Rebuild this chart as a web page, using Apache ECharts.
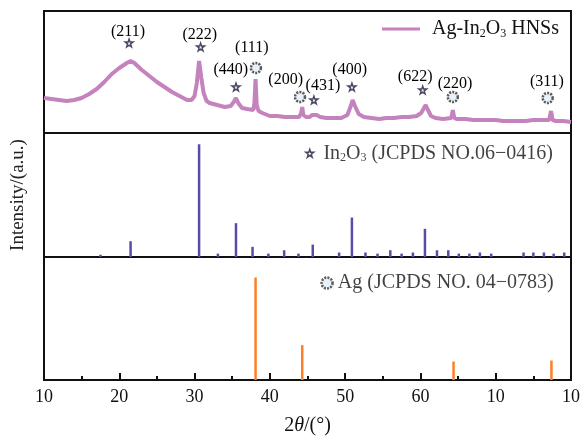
<!DOCTYPE html>
<html>
<head>
<meta charset="utf-8">
<script src="https://cdn.jsdelivr.net/npm/echarts@6/dist/echarts.min.js"></script>
<style>
  html, body { margin: 0; padding: 0; background: #fff; }
  #main { width: 584px; height: 438px; }
</style>
</head>
<body>
<div id="main"></div>
<script>
// measured XRD pattern of Ag-In2O3 HNSs (2theta, intensity a.u.)
const xrdTheta = [10, 11, 12, 13, 14, 15, 16, 17, 18, 19, 20, 21, 21.5, 22, 23, 24, 25, 26, 27, 28, 29, 29.6, 30.0, 30.3, 30.6, 30.9, 31.2, 31.6, 32, 33, 34, 34.8, 35.2, 35.5, 35.8, 36.3, 37, 37.8, 37.95, 38.1, 38.25, 38.5, 39, 40, 41, 42, 43, 43.9, 44.15, 44.3, 44.45, 44.8, 45.3, 45.6, 45.85, 46.2, 46.7, 47.5, 48.5, 49.5, 50.3, 50.7, 51.0, 51.3, 51.8, 52.5, 53.5, 54.5, 55.5, 56.5, 57.5, 58.5, 59.5, 60.1, 60.4, 60.7, 61.0, 61.4, 62, 63, 64.1, 64.3, 64.5, 64.8, 66, 67, 68, 69, 70, 71, 72, 73, 74, 75, 76, 77.1, 77.35, 77.55, 78, 79, 80];
const xrdInt = [35, 34, 33, 32, 33, 35, 39, 44, 51, 59, 65, 70, 72, 70, 63, 57, 51, 46, 41, 37, 33, 33, 37, 50, 72, 55, 40, 32, 30, 28, 26, 27, 31, 35, 30, 25, 24, 23, 30, 54, 28, 22, 20, 17, 17, 16, 16, 16, 20, 26, 18, 16, 16, 18, 20, 18, 16, 15, 15, 15, 18, 26, 33, 27, 19, 16, 15, 14, 15, 15, 16, 16, 17, 20, 24, 28, 23, 17, 15, 14, 15, 23, 15, 14, 14, 13, 13, 13, 13, 12, 12, 12, 12, 13, 13, 13, 22, 13, 12, 12, 11];

// In2O3 reference lines (JCPDS 06-0416)
const in2o3Pos = [17.5, 21.5, 30.6, 33.1, 35.5, 37.7, 39.8, 41.9, 43.8, 45.7, 49.2, 50.9, 52.7, 54.3, 56.0, 57.5, 59.0, 60.6, 62.2, 63.7, 65.1, 66.5, 67.9, 69.4, 73.7, 75.0, 76.4, 77.7, 79.1];
const in2o3Int = [2, 14, 100, 3, 30, 9, 3, 6, 3, 11, 4, 35, 4, 3, 6, 3, 4, 25, 6, 6, 3, 3, 4, 3, 4, 4, 4, 3, 4];

// Ag reference lines (JCPDS 04-0783)
const agPos = [38.1, 44.3, 64.4, 77.4];
const agInt = [100, 34, 18, 19];

// peak annotations in the top panel
const starMarks = [[21.3, 90], [30.8, 86], [35.5, 46], [45.85, 33], [50.9, 46], [60.3, 43]];
const agMarks = [[38.15, 65], [44.0, 36], [64.3, 36], [76.9, 35]];
const hklLabels = ['(211)', '(222)', '(440)', '(111)', '(200)', '(431)', '(400)', '(622)', '(220)', '(311)'];
const hklPos = [[21.15, 101], [30.7, 98], [34.8, 63], [37.6, 85], [42.1, 53], [47.05, 47], [50.6, 63], [59.3, 56], [64.6, 49], [76.8, 51]];

const xTickLabels = ['10', '20', '30', '40', '50', '60', '10', '10'];

const FONT = 'Liberation Serif';
const INK = '#111';
const starPath = 'path://M50,2 L61,36 L97,36 L68,57 L79,92 L50,71 L21,92 L32,57 L3,36 L39,36 Z';
const richText = {
  a: { fontFamily: FONT, fontSize: 20, color: INK },
  s: { fontFamily: FONT, fontSize: 12, color: INK, padding: [9, 0, 0, 0] }
};
const starStyle = { color: '#eef0fb', borderColor: '#1c1c3c', borderWidth: 1.4 };
const gearStyle = { color: '#e2ecf7', borderColor: '#333', borderWidth: 2.5, borderType: [2, 1.2] };

const chart = echarts.init(document.getElementById('main'));

const frame = { show: true, borderColor: INK, borderWidth: 2, left: 44, right: 13 };
const hiddenX = (i) => ({ gridIndex: i, type: 'value', min: 10, max: 80, show: false });

chart.setOption({
  animation: false,
  backgroundColor: '#fff',
  grid: [
    Object.assign({ top: 11, height: 122 }, frame),
    Object.assign({ top: 133, height: 124 }, frame),
    Object.assign({ top: 257, height: 123 }, frame)
  ],
  legend: {
    data: ['Ag-In2O3 HNSs'],
    left: 382,
    top: 19,
    padding: 0,
    icon: 'rect',
    itemWidth: 38,
    itemHeight: 3,
    itemStyle: { color: '#c483bd' },
    formatter: () => '{a|Ag-In}{s|2}{a|O}{s|3}{a| HNSs}',
    textStyle: { padding: [0, 0, 0, 7], rich: richText }
  },
  xAxis: [
    hiddenX(0),
    hiddenX(1),
    {
      gridIndex: 2, type: 'value', min: 10, max: 80, interval: 10,
      axisLine: { show: true, lineStyle: { color: INK, width: 2 } },
      axisTick: { show: true, inside: true, length: 7, lineStyle: { color: INK, width: 2 } },
      minorTick: { show: true, splitNumber: 2, length: 4, lineStyle: { color: INK, width: 2 } },
      splitLine: { show: false },
      axisLabel: {
        fontFamily: FONT, fontSize: 18, color: INK, margin: 8,
        formatter: (v) => xTickLabels[Math.round((v - 10) / 10)]
      },
      name: '{n|2}{i|θ}{n|/(°)}',
      nameLocation: 'middle',
      nameGap: 36,
      nameTextStyle: {
        rich: {
          n: { fontFamily: FONT, fontSize: 20, color: INK },
          i: { fontFamily: FONT, fontSize: 20, color: INK, fontStyle: 'italic' }
        }
      }
    }
  ],
  yAxis: [
    { gridIndex: 0, type: 'value', min: 0, max: 122, show: false },
    {
      gridIndex: 1, type: 'value', min: 0, max: 110,
      axisLine: { show: false }, axisTick: { show: false },
      axisLabel: { show: false }, splitLine: { show: false },
      name: 'Intensity/(a.u.)', nameLocation: 'middle', nameGap: 16,
      nameTextStyle: { fontFamily: FONT, fontSize: 19, color: '#222' }
    },
    { gridIndex: 2, type: 'value', min: 0, max: 120, show: false }
  ],
  series: [
    {
      name: 'Ag-In2O3 HNSs', type: 'line', xAxisIndex: 0, yAxisIndex: 0,
      data: xrdTheta.map((t, i) => [t, xrdInt[i]]),
      symbol: 'none',
      lineStyle: { color: '#c483bd', width: 4 },
      itemStyle: { color: '#c483bd' }
    },
    {
      type: 'scatter', xAxisIndex: 0, yAxisIndex: 0, data: starMarks,
      symbol: starPath, symbolSize: 8, itemStyle: starStyle, z: 5
    },
    {
      type: 'scatter', xAxisIndex: 0, yAxisIndex: 0, data: agMarks,
      symbol: 'circle', symbolSize: 10, itemStyle: gearStyle, z: 5
    },
    {
      type: 'scatter', xAxisIndex: 0, yAxisIndex: 0,
      data: hklPos.map((p, i) => ({ value: p, name: hklLabels[i] })),
      symbolSize: 1, itemStyle: { color: '#fff', opacity: 0 },
      label: {
        show: true, position: 'inside', formatter: '{b}',
        fontFamily: FONT, fontSize: 16, color: '#000', opacity: 1, textBorderWidth: 0
      }
    },
    {
      type: 'bar', xAxisIndex: 1, yAxisIndex: 1,
      data: in2o3Pos.map((t, i) => [t, in2o3Int[i]]),
      barWidth: 2.5, itemStyle: { color: '#5a4ca6' }
    },
    {
      type: 'scatter', xAxisIndex: 1, yAxisIndex: 1, data: [[45.3, 92]],
      symbol: starPath, symbolSize: 8, itemStyle: starStyle,
      label: {
        show: true, position: 'right', distance: 9,
        formatter: '{a|In}{s|2}{a|O}{s|3}{a| (JCPDS NO.06−0416)}', rich: richText
      }
    },
    {
      type: 'bar', xAxisIndex: 2, yAxisIndex: 2,
      data: agPos.map((t, i) => [t, agInt[i]]),
      barWidth: 2.5, itemStyle: { color: '#ff7f27' }
    },
    {
      type: 'scatter', xAxisIndex: 2, yAxisIndex: 2, data: [[47.6, 94.6]],
      symbol: 'circle', symbolSize: 11, itemStyle: gearStyle,
      label: {
        show: true, position: 'right', distance: 4,
        formatter: '{a|Ag (JCPDS NO. 04−0783)}', rich: richText
      }
    }
  ]
});
</script>
</body>
</html>
